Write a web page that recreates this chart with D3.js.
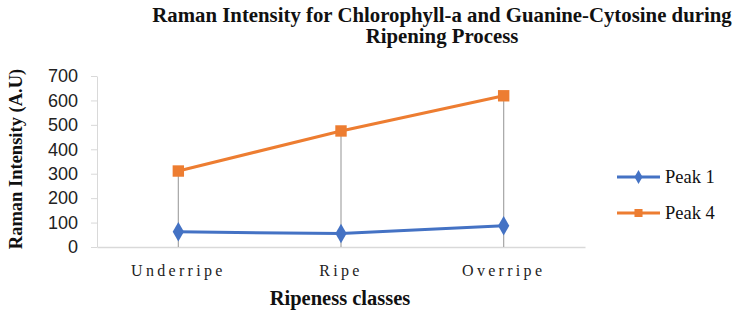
<!DOCTYPE html>
<html>
<head>
<meta charset="utf-8">
<script src="https://cdn.jsdelivr.net/npm/d3@7"></script>
<style>
  body { margin: 0; background: #fff; }
</style>
</head>
<body>
<div id="chart"></div>
<script>
const categories = ["Underripe", "Ripe", "Overripe"];
const peak1 = [62, 55, 87];
const peak4 = [311, 475, 619];
const yTicks = [0, 100, 200, 300, 400, 500, 600, 700];
const seriesNames = ["Peak 1", "Peak 4"];
const seriesColors = ["#4472C4", "#ED7D31"];

const width = 740, height = 316,
  margin = {top: 76, right: 155, bottom: 69, left: 97};

const svg = d3.select("#chart")
  .append("svg")
  .attr("width", width)
  .attr("height", height);

const x = d3.scaleBand(categories, [margin.left, width - margin.right]);
const y = d3.scaleLinear([0, 700], [height - margin.bottom, margin.top]);
const cx = d => x(d) + x.bandwidth() / 2;

// y axis
const yAxis = svg.append("g")
  .attr("transform", `translate(${margin.left},0)`)
  .call(d3.axisLeft(y).tickValues(yTicks).tickSize(6).tickSizeOuter(0).tickPadding(13));
yAxis.select(".domain").attr("stroke", "#d9d9d9");
yAxis.selectAll(".tick line").attr("stroke", "#d9d9d9");
yAxis.selectAll("text")
  .attr("font-family", "Liberation Sans, Arial, sans-serif")
  .attr("font-size", 18)
  .attr("fill", "#222");

// x axis
const xAxis = svg.append("g")
  .attr("transform", `translate(0,${height - margin.bottom})`)
  .call(d3.axisBottom(x).tickSize(0).tickPadding(18));
xAxis.select(".domain").attr("stroke", "#d9d9d9").attr("stroke-width", 1.5);
xAxis.selectAll("text")
  .attr("font-family", "Liberation Serif, serif")
  .attr("font-size", 16)
  .attr("letter-spacing", "3.3px")
  .attr("fill", "#222");

// drop lines
const rows = categories.map((c, i) => ({c, v1: peak1[i], v4: peak4[i]}));
svg.append("g")
  .selectAll("line")
  .data(rows)
  .join("line")
  .attr("x1", d => cx(d.c))
  .attr("x2", d => cx(d.c))
  .attr("y1", d => y(Math.max(d.v1, d.v4)))
  .attr("y2", y(0))
  .attr("stroke", "#a5a5a5")
  .attr("stroke-width", 1.2);

const line = d3.line().x(d => cx(d.c)).y(d => y(d.v));
const series = [
  {name: seriesNames[0], color: seriesColors[0], shape: d3.symbolDiamond, size: 110, pts: categories.map((c, i) => ({c, v: peak1[i]}))},
  {name: seriesNames[1], color: seriesColors[1], shape: d3.symbolSquare, size: 130, pts: categories.map((c, i) => ({c, v: peak4[i]}))}
];

series.forEach(s => {
  svg.append("path")
    .datum(s.pts)
    .attr("d", line)
    .attr("fill", "none")
    .attr("stroke", s.color)
    .attr("stroke-width", 3);
  svg.append("g")
    .selectAll("path")
    .data(s.pts)
    .join("path")
    .attr("transform", d => `translate(${cx(d.c)},${y(d.v)})`)
    .attr("d", d3.symbol(s.shape, s.size))
    .attr("fill", s.color);
});

// legend
const legend = svg.selectAll(".legend-group")
  .data(series)
  .join("g")
  .attr("class", "legend-group")
  .attr("transform", (d, i) => `translate(617,${177 + i * 36})`);
legend.append("line")
  .attr("x1", 0).attr("x2", 43)
  .attr("stroke", d => d.color)
  .attr("stroke-width", 3);
legend.append("path")
  .attr("transform", "translate(21.5,0)")
  .attr("d", d => d3.symbol(d.shape, d.size * 0.5)())
  .attr("fill", d => d.color);
legend.append("text")
  .attr("x", 48)
  .attr("y", 6)
  .attr("font-family", "Liberation Serif, serif")
  .attr("font-size", 18.5)
  .attr("fill", "#111")
  .text(d => d.name);

// titles
const title = svg.append("text")
  .attr("text-anchor", "middle")
  .attr("font-family", "Liberation Serif, Times New Roman, serif")
  .attr("font-weight", "bold")
  .attr("font-size", 20.8)
  .attr("fill", "#111");
title.append("tspan").attr("x", 442).attr("y", 22)
  .text("Raman Intensity for Chlorophyll-a and Guanine-Cytosine during");
title.append("tspan").attr("x", 442).attr("y", 43)
  .text("Ripening Process");

svg.append("text")
  .attr("transform", "translate(22,159) rotate(-90)")
  .attr("text-anchor", "middle")
  .attr("font-family", "Liberation Serif, Times New Roman, serif")
  .attr("font-weight", "bold")
  .attr("font-size", 18.5)
  .attr("fill", "#111")
  .text("Raman Intensity (A.U)");

svg.append("text")
  .attr("x", 340)
  .attr("y", 305)
  .attr("text-anchor", "middle")
  .attr("font-family", "Liberation Serif, Times New Roman, serif")
  .attr("font-weight", "bold")
  .attr("font-size", 20.5)
  .attr("fill", "#111")
  .text("Ripeness classes");
</script>
</body>
</html>
